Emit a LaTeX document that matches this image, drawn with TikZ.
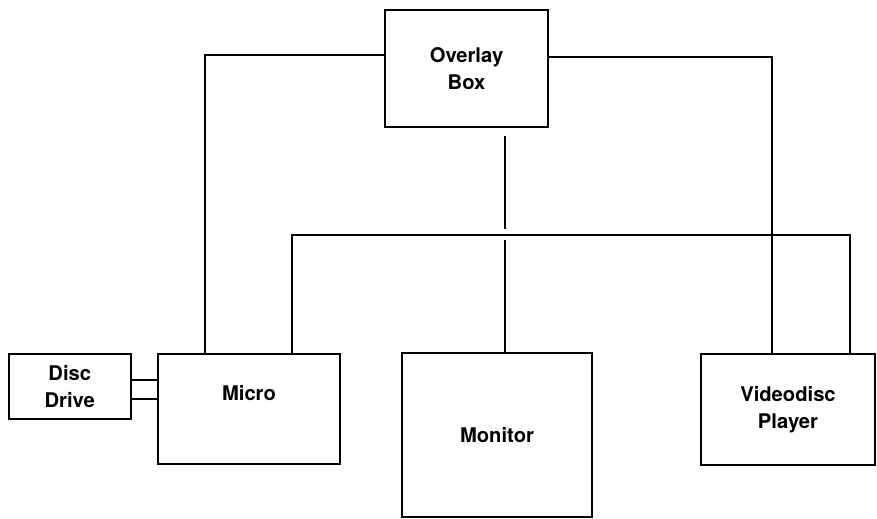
\documentclass[tikz,border=0pt]{standalone}
\usepackage{fontspec}
\setmainfont{TeX Gyre Heros}
\usepackage{tikz}
\usetikzlibrary{positioning}

\begin{document}
\begin{tikzpicture}[x=0.02cm, y=-0.02cm,
      unit/.style={rectangle, draw=black, line width=1.3pt, align=center,
      font=\fontsize{11.5}{15.5}\selectfont\bfseries},
      wire/.style={draw=black, line width=1.3pt}
    ]
      \useasboundingbox (0,0) rectangle (877,519);

      \node[unit, minimum width=3.26cm, minimum height=2.34cm] (ovl) at (466.5,68.5) {Overlay\\Box};
      \node[unit, minimum width=3.64cm, minimum height=2.20cm, text depth=0.64cm] (mic) at (249,409) {Micro};
      \node[unit, minimum width=2.44cm, minimum height=1.30cm, left=0.50cm of mic.north west, anchor=north east] (dd) {Disc\\Drive};
      \node[unit, minimum width=3.80cm, minimum height=3.28cm] (mon) at (497,435) {Monitor};
      \node[unit, minimum width=3.48cm, minimum height=2.22cm] (vdp) at (788,409.5) {Videodisc\\Player};
      \coordinate (bus) at (505,235);

      % overlay box to micro and player
      \draw[wire] ([yshift=0.27cm]ovl.west) -| ([xshift=-0.88cm]mic.north);
      \draw[wire] ([yshift=0.23cm]ovl.east) -| ([xshift=-0.32cm]vdp.north);
      \draw[wire] ([yshift=-0.16cm]ovl.south -| bus) -- ([yshift=0.12cm]bus);

      % shared line
      \draw[wire] ([xshift=0.86cm]mic.north) |- (bus) -| ([xshift=1.24cm]vdp.north);
      \draw[wire] ([yshift=-0.1cm]bus) -- (mon.north -| bus);

      % disc drive
      \draw[wire] ([yshift=0.13cm]dd.east) -- ([yshift=0.13cm]dd.east -| mic.west);
      \draw[wire] ([yshift=-0.25cm]dd.east) -- ([yshift=-0.25cm]dd.east -| mic.west);
    \end{tikzpicture}
\end{document}
